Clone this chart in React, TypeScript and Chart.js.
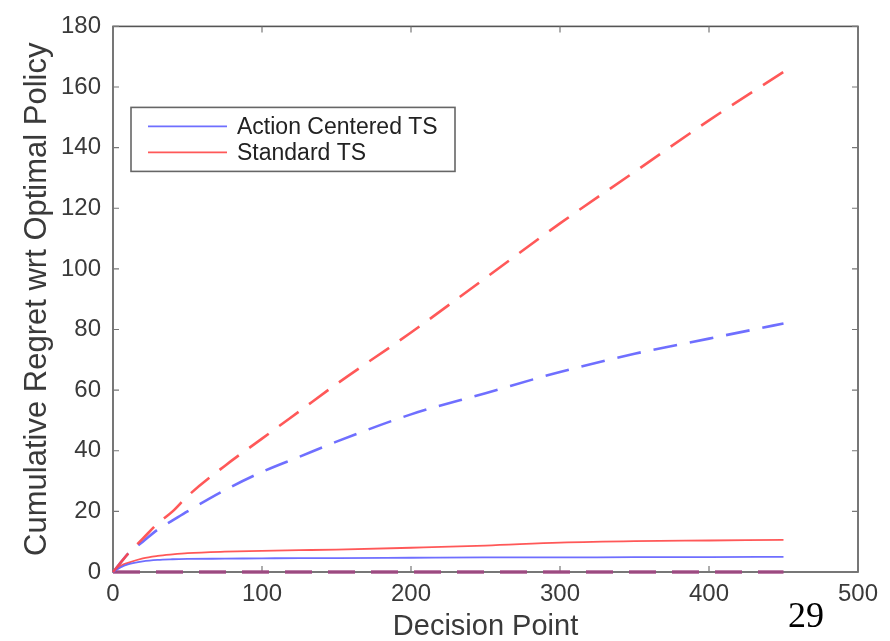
import React, { useEffect, useRef } from 'react';
import { Chart, registerables } from 'chart.js';

Chart.register(...registerables);

// ---- data ----
const decisionPoints = [0, 5, 10, 20, 30, 40, 50, 75, 100, 125, 150, 200, 250, 300, 350, 400, 450];
const standardTSDashed = [0, 3, 6, 11, 16, 20, 25, 35, 44, 53, 62, 79, 97, 115, 132, 149, 165];
const actionCenteredDashed = [0, 3, 6, 10, 14, 17, 20, 27, 33, 38, 43, 52, 59, 66, 72, 77, 82];
const standardTSSolid = [0, 2, 3, 4.5, 5.3, 5.8, 6.2, 6.7, 7, 7.2, 7.4, 8, 8.7, 9.7, 10.2, 10.4, 10.6];
const actionCenteredSolid = [0, 1.5, 2.5, 3.5, 4, 4.2, 4.3, 4.4, 4.5, 4.6, 4.6, 4.7, 4.8, 4.8, 4.9, 4.9, 5];
const zeroRegret = [0, 0, 0, 0, 0, 0, 0, 0, 0, 0, 0, 0, 0, 0, 0, 0, 0];

const legendLabels = ['Action Centered TS', 'Standard TS'];
const xTitle = 'Decision Point';
const yTitle = 'Cumulative Regret wrt Optimal Policy';
const slideNumber = '29';

const X_MIN = 0, X_MAX = 500, X_STEP = 100;
const Y_MIN = 0, Y_MAX = 180, Y_STEP = 20;

const RED = 'rgba(255, 70, 70, 0.9)';
const BLUE = 'rgba(95, 95, 255, 0.9)';
const PURPLE = 'rgba(160, 70, 130, 0.9)';

const toPoints = (ys: number[]) => decisionPoints.map((x, i) => ({ x, y: ys[i] }));

const framePlugin = {
  id: 'frameTicks',
  beforeDatasetsDraw(chart: any) {
    const { ctx, chartArea: a, scales } = chart;
    ctx.save();
    ctx.strokeStyle = '#555';
    ctx.lineWidth = 1.6;
    ctx.strokeRect(a.left, a.top, a.right - a.left, a.bottom - a.top);
    ctx.lineWidth = 1.2;
    ctx.strokeStyle = '#777';
    const len = 6;
    scales.x.ticks.forEach((t: any) => {
      const px = scales.x.getPixelForValue(t.value);
      ctx.beginPath();
      ctx.moveTo(px, a.bottom);
      ctx.lineTo(px, a.bottom - len);
      ctx.moveTo(px, a.top);
      ctx.lineTo(px, a.top + len);
      ctx.stroke();
    });
    scales.y.ticks.forEach((t: any) => {
      const py = scales.y.getPixelForValue(t.value);
      ctx.beginPath();
      ctx.moveTo(a.left, py);
      ctx.lineTo(a.left + len, py);
      ctx.moveTo(a.right, py);
      ctx.lineTo(a.right - len, py);
      ctx.stroke();
    });
    ctx.restore();
  },
};

const legendPlugin = {
  id: 'boxLegend',
  afterDraw(chart: any) {
    const { ctx, chartArea: a } = chart;
    const items = chart.data.datasets.filter((d: any) => d.legendEntry);
    const x0 = a.left + 18;
    const y0 = a.top + 81;
    const w = 324;
    const rowH = 26;
    const h = 64;
    ctx.save();
    ctx.fillStyle = '#fff';
    ctx.fillRect(x0, y0, w, h);
    ctx.strokeStyle = '#666';
    ctx.lineWidth = 1.6;
    ctx.strokeRect(x0, y0, w, h);
    ctx.font = '23px "Liberation Sans", Arial, sans-serif';
    ctx.textBaseline = 'middle';
    items.forEach((d: any, i: number) => {
      const y = y0 + 19 + i * rowH;
      ctx.strokeStyle = d.borderColor;
      ctx.lineWidth = 1.6;
      ctx.setLineDash([]);
      ctx.beginPath();
      ctx.moveTo(x0 + 17, y);
      ctx.lineTo(x0 + 96, y);
      ctx.stroke();
      ctx.fillStyle = '#222';
      ctx.fillText(d.label, x0 + 106, y + 1);
    });
    ctx.restore();
  },
};

export default function App() {
  const ref = useRef<HTMLCanvasElement | null>(null);

  useEffect(() => {
    if (!ref.current) return;
    const chart = new Chart(ref.current, {
      type: 'line',
      data: {
        datasets: [
          {
            label: 'Standard TS (dashed)',
            data: toPoints(standardTSDashed),
            borderColor: RED,
            borderWidth: 2.6,
            borderDash: [24, 13],
            pointRadius: 0,
            cubicInterpolationMode: 'monotone',
            clip: false,
          } as any,
          {
            label: 'Action Centered TS (dashed)',
            data: toPoints(actionCenteredDashed),
            borderColor: BLUE,
            borderWidth: 2.6,
            borderDash: [24, 13],
            pointRadius: 0,
            cubicInterpolationMode: 'monotone',
            clip: false,
          },
          {
            label: legendLabels[0],
            data: toPoints(actionCenteredSolid),
            borderColor: BLUE,
            borderWidth: 1.8,
            pointRadius: 0,
            cubicInterpolationMode: 'monotone',
            clip: false,
            legendEntry: true,
          },
          {
            label: legendLabels[1],
            data: toPoints(standardTSSolid),
            borderColor: RED,
            borderWidth: 1.8,
            pointRadius: 0,
            cubicInterpolationMode: 'monotone',
            clip: false,
            legendEntry: true,
          },
          {
            label: 'Zero baseline',
            data: toPoints(zeroRegret),
            borderColor: PURPLE,
            borderWidth: 3.6,
            borderDash: [27, 16],
            pointRadius: 0,
            clip: false,
          },
        ] as any,
      },
      options: {
        animation: false,
        responsive: false,
        maintainAspectRatio: false,
        layout: { padding: { top: 23, right: 32, left: 0, bottom: 0 } },
        plugins: {
          legend: { display: false },
          tooltip: { enabled: false },
        },
        scales: {
          x: {
            type: 'linear',
            min: X_MIN,
            max: X_MAX,
            ticks: {
              stepSize: X_STEP,
              padding: 8,
              color: '#3a3a3a',
              font: { family: '"Liberation Sans", Arial, sans-serif', size: 24 },
            },
            grid: { display: false, drawTicks: false },
            border: { display: false },
            title: {
              display: true,
              text: xTitle,
              color: '#3a3a3a',
              padding: { top: 0, bottom: 0 },
              font: { family: '"Liberation Sans", Arial, sans-serif', size: 29, lineHeight: 1 },
            },
            afterFit: (s: any) => { s.height = 69; },
          },
          y: {
            type: 'linear',
            min: Y_MIN,
            max: Y_MAX,
            ticks: {
              stepSize: Y_STEP,
              padding: 12,
              color: '#3a3a3a',
              font: { family: '"Liberation Sans", Arial, sans-serif', size: 24 },
            },
            grid: { display: false, drawTicks: false },
            border: { display: false },
            title: {
              display: true,
              text: yTitle,
              color: '#3a3a3a',
              padding: { top: 22, bottom: 0 },
              font: { family: '"Liberation Sans", Arial, sans-serif', size: 31, lineHeight: 1 },
            },
            afterFit: (s: any) => { s.width = 113; },
          },
        },
      },
      plugins: [framePlugin, legendPlugin],
    });
    return () => chart.destroy();
  }, []);

  return (
    <div style={{ position: 'absolute', left: 0, top: 0, width: 890, height: 641, background: '#fff', overflow: 'hidden' }}>
      <canvas ref={ref} width={890} height={641} style={{ position: 'absolute', left: 0, top: 0, width: 890, height: 641 }} />
      <div
        style={{
          position: 'absolute',
          left: 788,
          top: 597,
          fontFamily: '"Liberation Serif", "Times New Roman", serif',
          fontSize: 36,
          lineHeight: '36px',
          color: '#000',
        }}
      >
        {slideNumber}
      </div>
    </div>
  );
}
